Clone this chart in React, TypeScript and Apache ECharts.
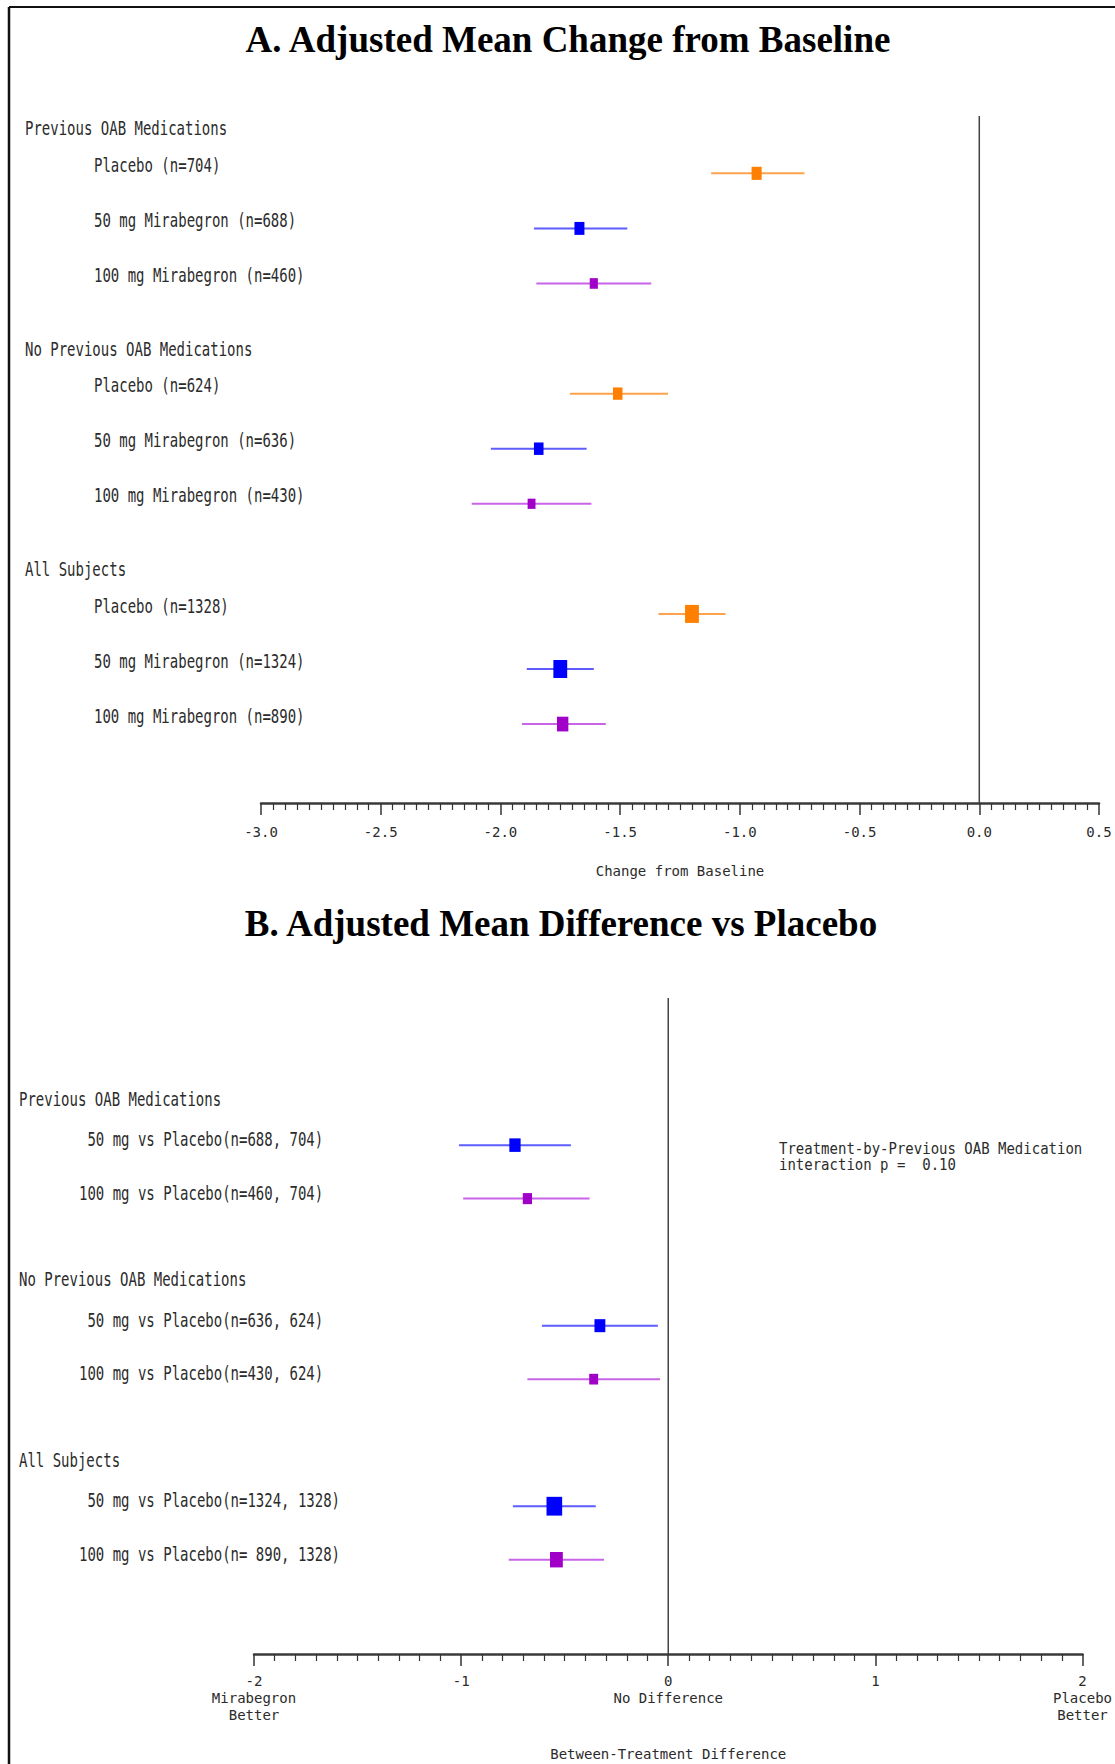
import React, { useEffect, useRef } from "react";
import * as echarts from "echarts";

// ---- Panel A: adjusted mean change from baseline ----
const groupsA = ["Previous OAB Medications", "No Previous OAB Medications", "All Subjects"];
const armsA = ["Placebo", "50 mg Mirabegron", "100 mg Mirabegron"];
const nA = [
  [704, 688, 460],
  [624, 636, 430],
  [1328, 1324, 890],
];
const meanA = [
  [-0.93, -1.67, -1.61],
  [-1.51, -1.84, -1.87],
  [-1.2, -1.75, -1.74],
];
const lowA = [
  [-1.12, -1.86, -1.85],
  [-1.71, -2.04, -2.12],
  [-1.34, -1.89, -1.91],
];
const highA = [
  [-0.73, -1.47, -1.37],
  [-1.3, -1.64, -1.62],
  [-1.06, -1.61, -1.56],
];

// ---- Panel B: adjusted mean difference vs placebo ----
const groupsB = ["Previous OAB Medications", "No Previous OAB Medications", "All Subjects"];
const dosesB = ["50", "100"];
const nActiveB = [
  [688, 460],
  [636, 430],
  [1324, 890],
];
const nPlaceboB = [704, 624, 1328];
const meanB = [
  [-0.74, -0.68],
  [-0.33, -0.36],
  [-0.55, -0.54],
];
const lowB = [
  [-1.01, -0.99],
  [-0.61, -0.68],
  [-0.75, -0.77],
];
const highB = [
  [-0.47, -0.38],
  [-0.05, -0.04],
  [-0.35, -0.31],
];

const ticksB: Record<string, string> = {
  "-2": "-2\nMirabegron\nBetter",
  "-1": "-1",
  "0": "0\nNo Difference",
  "1": "1",
  "2": "2\nPlacebo\nBetter",
};
const interactionNote = ["Treatment-by-Previous OAB Medication", "interaction p =  0.10"];

// ---- styling ----
const MONO = "DejaVu Sans Mono";
const TEXT = "#2b2b2b";
const markerColors = ["#FF7F00", "#0000FF", "#A000C8"];
const lineColors = ["#FFA24D", "#5C5CFF", "#C864E8"];
const STRETCH = 1.4;

type LabelRow = { row: number; text: string; x: number };

function buildOption() {
  // row layout (in axis units) for each panel
  const rowsA: LabelRow[] = [];
  const armRowsA: number[][] = [];
  groupsA.forEach((g, gi) => {
    const base = gi * 12;
    rowsA.push({ row: base, text: g, x: 25 });
    armRowsA.push(
      armsA.map((a, ai) => {
        const r = base + 2 + ai * 3;
        rowsA.push({ row: r, text: `${a} (n=${nA[gi][ai]})`, x: 94 });
        return r;
      })
    );
  });

  const rowsB: LabelRow[] = [];
  const armRowsB: number[][] = [];
  groupsB.forEach((g, gi) => {
    const base = gi * 13.5;
    rowsB.push({ row: base, text: g, x: 19 });
    const w = String(Math.max(...nActiveB[gi])).length;
    armRowsB.push(
      dosesB.map((d, di) => {
        const r = base + 3 + di * 4;
        const txt = `${d.padStart(3, " ")} mg vs Placebo(n=${String(nActiveB[gi][di]).padStart(w, " ")}, ${nPlaceboB[gi]})`;
        rowsB.push({ row: r, text: txt, x: 79 });
        return r;
      })
    );
  });

  const labelSeries = (rows: LabelRow[], idx: number, xMin: number) => ({
    type: "custom",
    xAxisIndex: idx,
    yAxisIndex: idx,
    silent: true,
    data: rows.map((r) => [xMin, r.row]),
    renderItem: (params: any, api: any) => {
      const r = rows[params.dataIndex];
      const p = api.coord([api.value(0), api.value(1)]);
      return {
        type: "text",
        x: r.x,
        y: p[1],
        scaleY: STRETCH,
        style: {
          text: r.text,
          fill: TEXT,
          fontFamily: MONO,
          fontSize: 14,
          textAlign: "left",
          textVerticalAlign: "middle",
        },
      };
    },
  });

  const ciSeries = (
    idx: number,
    colorIdx: number,
    data: number[][],
    sizeK: number,
    aspect: number
  ) => ({
    type: "custom",
    xAxisIndex: idx,
    yAxisIndex: idx,
    silent: true,
    encode: { x: [0, 1, 2], y: 3 },
    data,
    renderItem: (_params: any, api: any) => {
      const row = api.value(3) + 0.45;
      const a = api.coord([api.value(0), row]);
      const b = api.coord([api.value(1), row]);
      const c = api.coord([api.value(2), row]);
      const w = sizeK * Math.sqrt(api.value(4));
      const h = w * aspect;
      return {
        type: "group",
        children: [
          {
            type: "line",
            shape: { x1: a[0], y1: a[1], x2: b[0], y2: b[1] },
            style: { stroke: lineColors[colorIdx], lineWidth: 2 },
          },
          {
            type: "rect",
            shape: { x: c[0] - w / 2, y: c[1] - h / 2, width: w, height: h },
            style: { fill: markerColors[colorIdx] },
          },
        ],
      };
    },
  });

  const seriesA = armsA.map((_, ai) =>
    ciSeries(
      0,
      ai,
      groupsA.map((_, gi) => [lowA[gi][ai], highA[gi][ai], meanA[gi][ai], armRowsA[gi][ai], nA[gi][ai]]),
      0.38,
      1.3
    )
  );
  const seriesB = dosesB.map((_, di) =>
    ciSeries(
      1,
      di + 1,
      groupsB.map((_, gi) => [lowB[gi][di], highB[gi][di], meanB[gi][di], armRowsB[gi][di], nActiveB[gi][di]]),
      0.43,
      1.2
    )
  );

  const axisText = { fontFamily: MONO, fontSize: 14, color: TEXT };
  const baseX = {
    type: "value",
    axisLine: { show: true, onZero: false, lineStyle: { color: "#3a3a3a", width: 2.5 } },
    axisTick: { show: true, length: 12, lineStyle: { color: "#333", width: 1.5 } },
    minorTick: { show: true, splitNumber: 10, length: 7, lineStyle: { color: "#333", width: 1.2 } },
    splitLine: { show: false },
    nameLocation: "middle",
    nameTextStyle: axisText,
  };

  const refLine = (idx: number, top: number, bottom: number) => ({
    type: "line",
    xAxisIndex: idx,
    yAxisIndex: idx,
    silent: true,
    symbol: "none",
    data: [
      [0, top],
      [0, bottom],
    ],
    lineStyle: { color: "#444", width: 1.5 },
  });

  return {
    animation: false,
    backgroundColor: "#ffffff",
    grid: [
      { left: 261, width: 838, top: 110, height: 693 },
      { left: 254, width: 837, top: 992, height: 662 },
    ],
    xAxis: [
      {
        ...baseX,
        gridIndex: 0,
        min: -3,
        max: 0.5,
        interval: 0.5,
        axisLabel: {
          ...axisText,
          margin: 22,
          showMinLabel: true,
          showMaxLabel: true,
          formatter: (v: number) => v.toFixed(1),
        },
        name: "Change from Baseline",
        nameGap: 61,
      },
      {
        ...baseX,
        gridIndex: 1,
        min: -2,
        max: 2,
        interval: 1,
        axisLabel: {
          ...axisText,
          margin: 18,
          lineHeight: 17,
          showMinLabel: true,
          showMaxLabel: true,
          formatter: (v: number) => ticksB[String(v)] ?? String(v),
        },
        name: "Between-Treatment Difference",
        nameGap: 93,
      },
    ],
    yAxis: [
      { type: "value", gridIndex: 0, inverse: true, min: -1, max: 36.75, show: false },
      { type: "value", gridIndex: 1, inverse: true, min: -8, max: 41.5, show: false },
    ],
    graphic: [
      {
        type: "line",
        shape: { x1: 9, y1: 7, x2: 1115, y2: 7 },
        style: { stroke: "#111", lineWidth: 2 },
      },
      {
        type: "line",
        shape: { x1: 9, y1: 7, x2: 9, y2: 1764 },
        style: { stroke: "#111", lineWidth: 2.5 },
      },
      {
        type: "text",
        x: 568,
        y: 39,
        style: {
          text: "A. Adjusted Mean Change from Baseline",
          fontFamily: "Liberation Serif",
          fontWeight: "bold",
          fontSize: 37,
          fill: "#000",
          textAlign: "center",
          textVerticalAlign: "middle",
        },
      },
      {
        type: "text",
        x: 561,
        y: 923,
        style: {
          text: "B. Adjusted Mean Difference vs Placebo",
          fontFamily: "Liberation Serif",
          fontWeight: "bold",
          fontSize: 37,
          fill: "#000",
          textAlign: "center",
          textVerticalAlign: "middle",
        },
      },
      ...interactionNote.map((t, i) => ({
        type: "text",
        x: 779,
        y: 1149 + i * 16,
        scaleY: 1.15,
        style: {
          text: t,
          fontFamily: MONO,
          fontSize: 14,
          fill: TEXT,
          textAlign: "left",
          textVerticalAlign: "middle",
        },
      })),
    ],
    series: [
      refLine(0, -0.67, 36.75),
      refLine(1, -7.56, 41.5),
      labelSeries(rowsA, 0, -3),
      labelSeries(rowsB, 1, -2),
      ...seriesA,
      ...seriesB,
    ],
  };
}

export default function App() {
  const ref = useRef<HTMLDivElement>(null);
  useEffect(() => {
    if (!ref.current) return;
    const chart = echarts.init(ref.current, null, { renderer: "svg" });
    chart.setOption(buildOption() as any);
    return () => chart.dispose();
  }, []);
  return (
    <div
      ref={ref}
      style={{ position: "absolute", left: 0, top: 0, width: 1115, height: 1764, background: "#fff" }}
    />
  );
}
